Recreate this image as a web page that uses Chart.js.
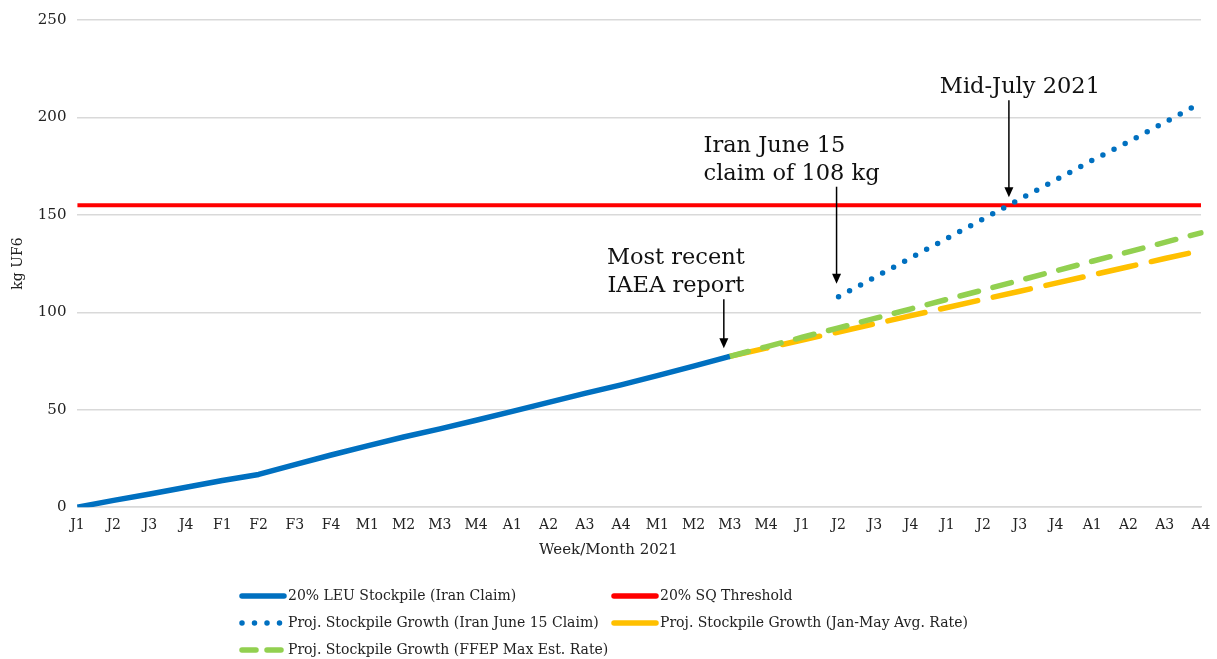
<!DOCTYPE html>
<html>
<head>
<meta charset="utf-8">
<script src="https://cdn.jsdelivr.net/npm/chart.js@4.4.1/dist/chart.umd.min.js"></script>
<style>
  html, body { margin: 0; padding: 0; background: #fff; }
  #wrap { width: 1217px; height: 659px; position: relative; }
</style>
</head>
<body>
<div id="wrap"><canvas id="c"></canvas></div>
<script>
const weekLabels = ['J1','J2','J3','J4','F1','F2','F3','F4','M1','M2','M3','M4','A1','A2','A3','A4',
                    'M1','M2','M3','M4','J1','J2','J3','J4','J1','J2','J3','J4','A1','A2','A3','A4'];

// 20% LEU stockpile as reported (Jan -> end of May)
const stockpile = [0, 3.5, 6.8, 10.2, 13.7, 16.8, 21.8, 26.8, 31.5, 36.0, 40.2, 44.6, 49.2, 53.8, 58.4, 62.8,
                   67.5, 72.4, 77.4, null, null, null, null, null, null, null, null, null, null, null, null, null];

// projection from Iran's June 15 claim of 108 kg
const projIranClaim = [null, null, null, null, null, null, null, null, null, null, null, null, null, null, null, null,
                       null, null, null, null, null, 108, 118, 128, 138, 148, 158, 168, 178, 187.5, 197.5, 207.5];

// projection at Jan-May average rate
const projJanMay = [null, null, null, null, null, null, null, null, null, null, null, null, null, null, null, null,
                    null, null, 77.4, 81.6, 85.8, 89.9, 94.1, 98.3, 102.5, 106.7, 110.8, 115.0, 119.2, 123.4, 127.6, 131.7];

// projection at FFEP max estimated rate
const projFfep = [null, null, null, null, null, null, null, null, null, null, null, null, null, null, null, null,
                  null, null, 77.4, 82.3, 87.2, 92.0, 96.9, 101.8, 106.7, 111.5, 116.4, 121.3, 126.2, 131.0, 135.9, 140.8];

const sqThreshold = 155;

const BLUE = '#0070C0', RED = '#FF0000', YELLOW = '#FFC000', GREEN = '#92D050';
const SERIF = '"DejaVu Serif", serif';

// callouts: arrow points at (idx, value); text is placed above the arrow
const notes = [
  { idx: 18, value: 77.4, lines: ['Most recent', 'IAEA report'], dx: -6, textX: -48, align: 'center', gap: 8, len: 49 },
  { idx: 21, value: 108, lines: ['Iran June 15', 'claim of 108 kg'], dx: -2, textX: -133, align: 'left', gap: 13, len: 97 },
  { idx: 25.7, value: 155, lines: ['Mid-July 2021'], dx: 0, textX: 11, align: 'center', gap: 8, len: 97 }
];

const annotate = {
  id: 'annotate',
  afterDatasetsDraw(chart){
    const {ctx, scales:{x, y}} = chart;
    ctx.save();
    notes.forEach(n => {
      const px = x.getPixelForValue(n.idx) + n.dx;
      const py = y.getPixelForValue(n.value);
      const tip = py - n.gap, top = tip - n.len;
      ctx.strokeStyle = '#000'; ctx.fillStyle = '#000'; ctx.lineWidth = 1.5;
      ctx.beginPath(); ctx.moveTo(px, top); ctx.lineTo(px, tip - 8); ctx.stroke();
      ctx.beginPath(); ctx.moveTo(px - 4.5, tip - 10); ctx.lineTo(px + 4.5, tip - 10); ctx.lineTo(px, tip); ctx.closePath(); ctx.fill();
      ctx.font = '22.5px ' + SERIF;
      ctx.fillStyle = '#111';
      ctx.textAlign = n.align; ctx.textBaseline = 'alphabetic';
      const lh = 28;
      n.lines.forEach((t, i) => {
        const ty = top - 7 - (n.lines.length - 1 - i) * lh;
        ctx.fillText(t, px + n.textX, ty);
      });
    });
    ctx.restore();
  }
};

// two-column legend under the chart
const legendItems = [
  { label: '20% LEU Stockpile (Iran Claim)', color: BLUE, dash: [], col: 0, row: 0 },
  { label: '20% SQ Threshold', color: RED, dash: [], col: 1, row: 0 },
  { label: 'Proj. Stockpile Growth (Iran June 15 Claim)', color: BLUE, dash: [0, 12.5], col: 0, row: 1 },
  { label: 'Proj. Stockpile Growth (Jan-May Avg. Rate)', color: YELLOW, dash: [], col: 1, row: 1 },
  { label: 'Proj. Stockpile Growth (FFEP Max Est. Rate)', color: GREEN, dash: [14, 11], col: 0, row: 2 }
];

const bottomLegend = {
  id: 'bottomLegend',
  afterDraw(chart){
    const ctx = chart.ctx;
    const colX = [242, 614], rowY = [596, 623, 650];
    ctx.save();
    legendItems.forEach(it => {
      const x0 = colX[it.col], y0 = rowY[it.row];
      ctx.strokeStyle = it.color; ctx.lineWidth = 5.5; ctx.lineCap = 'round';
      ctx.setLineDash(it.dash);
      ctx.beginPath(); ctx.moveTo(x0, y0); ctx.lineTo(x0 + 42, y0); ctx.stroke();
      ctx.setLineDash([]);
      ctx.fillStyle = '#222';
      ctx.font = '14px ' + SERIF;
      ctx.textAlign = 'left'; ctx.textBaseline = 'middle';
      ctx.fillText(it.label, x0 + 46, y0);
    });
    // x axis title, centred on the whole figure
    const xs = chart.scales.x;
    ctx.font = '15px ' + SERIF;
    ctx.fillStyle = '#222';
    ctx.textAlign = 'center'; ctx.textBaseline = 'middle';
    ctx.fillText('Week/Month 2021', chart.width / 2, xs.bottom - 12);
    ctx.restore();
  }
};

new Chart(document.getElementById('c'), {
  type: 'line',
  data: {
    labels: weekLabels,
    datasets: [
      { label: '20% LEU Stockpile (Iran Claim)', data: stockpile, borderColor: BLUE, borderWidth: 5.5, order: 0 },
      { label: 'Proj. Stockpile Growth (Iran June 15 Claim)', data: projIranClaim, borderColor: BLUE, borderWidth: 5.5,
        borderDash: [0, 12.5], borderCapStyle: 'round', order: 1 },
      { label: 'Proj. Stockpile Growth (FFEP Max Est. Rate)', data: projFfep, borderColor: GREEN, borderWidth: 5.5,
        borderDash: [19, 15], borderCapStyle: 'round', order: 2 },
      { label: 'Proj. Stockpile Growth (Jan-May Avg. Rate)', data: projJanMay, borderColor: YELLOW, borderWidth: 5.5,
        borderDash: [38, 16], borderCapStyle: 'round', order: 3 },
      { label: '20% SQ Threshold', data: weekLabels.map(() => sqThreshold), borderColor: RED, borderWidth: 4, order: 4 }
    ]
  },
  options: {
    responsive: true,
    maintainAspectRatio: false,
    animation: false,
    spanGaps: false,
    elements: { point: { radius: 0 }, line: { tension: 0, borderJoinStyle: 'round' } },
    layout: { padding: { top: 1, right: 16, left: 10, bottom: 97 } },
    plugins: {
      legend: { display: false },
      tooltip: { enabled: false }
    },
    scales: {
      x: {
        grid: { display: false },
        border: { color: '#D9D9D9', width: 1.5 },
        ticks: { autoSkip: false, maxRotation: 0, color: '#222', font: { family: SERIF, size: 14 }, padding: 2 },
        title: { display: true, text: 'Week/Month 2021', color: 'rgba(0,0,0,0)', font: { family: SERIF, size: 15 }, padding: { top: 4 } }
      },
      y: {
        min: 0, max: 250,
        ticks: { stepSize: 50, color: '#222', font: { family: SERIF, size: 15 }, padding: 11 },
        grid: { color: '#D9D9D9', lineWidth: 1.5, drawTicks: false },
        border: { display: false },
        title: { display: true, text: 'kg UF6', color: '#222', font: { family: SERIF, size: 14 }, padding: { top: 0, bottom: 0 } }
      }
    }
  },
  plugins: [annotate, bottomLegend]
});
</script>
</body>
</html>
